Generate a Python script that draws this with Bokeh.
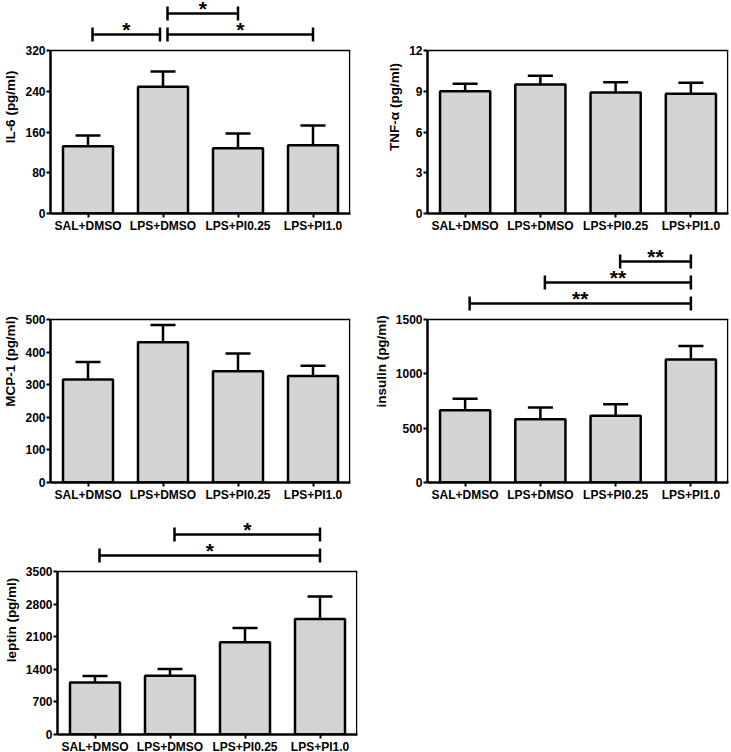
import numpy as np
from bokeh.plotting import figure
from bokeh.models import FixedTicker, GlobalInlineStyleSheet
from bokeh.layouts import column, row
from bokeh.embed import file_html
from bokeh.resources import INLINE
from bokeh.core.properties import value

groups = ["SAL+DMSO", "LPS+DMSO", "LPS+PI0.25", "LPS+PI1.0"]

il6_mean = [132, 249, 128, 134]
il6_sem = [21, 30, 29, 39]
il6_ticks = [0, 80, 160, 240, 320]
il6_sig = [(0, 1, 0, "*"), (1, 3, 0, "*"), (1, 2, 1, "*")]

tnf_mean = [9.0, 9.5, 8.9, 8.82]
tnf_sem = [0.55, 0.65, 0.77, 0.80]
tnf_ticks = [0, 3, 6, 9, 12]
tnf_sig = []

mcp_mean = [316, 430, 341, 327]
mcp_sem = [54, 53, 55, 31]
mcp_ticks = [0, 100, 200, 300, 400, 500]
mcp_sig = []

ins_mean = [666, 581, 614, 1133]
ins_sem = [104, 110, 107, 122]
ins_ticks = [0, 500, 1000, 1500]
ins_sig = [(0, 3, 0, "**"), (1, 3, 1, "**"), (2, 3, 2, "**")]

lep_mean = [1119, 1261, 1980, 2482]
lep_sem = [136, 145, 308, 480]
lep_ticks = [0, 700, 1400, 2100, 2800, 3500]
lep_sig = [(0, 3, 0, "*"), (1, 3, 1, "*")]

FONT = "Liberation Sans"
LEVEL_PX = [16, 37, 58]


def panel(ylabel, means, sems, ticks, sig, frame_h, box_off, bl, fw, br, bb):
    ymax = ticks[-1]
    box_h = frame_h - box_off
    upp = ymax / box_h
    ytop = ymax + box_off * upp
    p = figure(frame_width=fw, frame_height=frame_h, x_range=(-0.5, 3.5),
               y_range=(0, ytop), output_backend="svg", toolbar_location=None,
               min_border_left=bl, min_border_right=br, min_border_top=0,
               min_border_bottom=bb, outline_line_color=None)
    p.grid.visible = False
    x = np.arange(len(groups))
    m = np.array(means, dtype=float)
    s = np.array(sems, dtype=float)
    # error bars
    p.segment(x0=x, y0=m, x1=x, y1=m + s, line_color="black", line_width=2.5)
    p.segment(x0=x - 1 / 6, y0=m + s, x1=x + 1 / 6, y1=m + s,
              line_color="black", line_width=2.5)
    p.vbar(x=x, top=m, bottom=0, width=2 / 3, fill_color="#d4d4d4",
           line_color="black", line_width=2.5)
    # box top/right
    px_x = 4.0 / fw
    p.segment(x0=[-0.5, 3.5 - 0.8 * px_x], y0=[ymax, 0],
              x1=[3.5, 3.5 - 0.8 * px_x], y1=[ymax, ymax],
              line_color="black", line_width=1.5)
    # significance brackets
    starts = {(b[0], b[2]) for b in sig}
    for i, j, lvl, lab in sig:
        yl = ymax + LEVEL_PX[lvl] * upp
        x0 = i + 0.06
        x1 = j - (0.04 if (j, lvl) in starts else 0.0)
        p.segment(x0=[x0, x0, x1], y0=[yl, yl - 7 * upp, yl - 7 * upp],
                  x1=[x1, x0, x1], y1=[yl, yl + 7 * upp, yl + 7 * upp],
                  line_color="black", line_width=2.5)
        p.text(x=[(x0 + x1) / 2], y=[yl + 5 * upp], text=[lab],
               text_font=value(FONT), text_font_style="bold",
               text_font_size="21px", text_align="center",
               text_baseline="alphabetic", text_color="black")
    # axes
    ya = p.yaxis[0]
    ya.bounds = (0, ymax)
    ya.ticker = FixedTicker(ticks=ticks)
    ya.axis_label = ylabel
    xa = p.xaxis[0]
    xa.ticker = FixedTicker(ticks=list(range(len(groups))))
    xa.major_label_overrides = {i: g for i, g in enumerate(groups)}
    for ax in (ya, xa):
        ax.axis_line_width = 2.5
        ax.axis_line_color = "black"
        ax.major_tick_line_width = 2
        ax.major_tick_line_color = "black"
        ax.major_tick_out = 4
        ax.major_tick_in = 0
        ax.minor_tick_line_color = None
        ax.major_label_text_font = FONT
        ax.major_label_text_font_style = "bold"
        ax.major_label_text_font_size = "12px"
        ax.major_label_text_color = "black"
        ax.axis_label_text_font = FONT
        ax.axis_label_text_font_style = "bold"
        ax.axis_label_text_font_size = "13.5px"
        ax.axis_label_text_color = "black"
    ya.major_label_standoff = 1
    ya.axis_label_standoff = 4
    xa.major_label_standoff = 1
    return p


p1 = panel("IL-6 (pg/ml)", il6_mean, il6_sem, il6_ticks, il6_sig, 213, 50, 50, 300, 20, 27)
p2 = panel("TNF-α (pg/ml)", tnf_mean, tnf_sem, tnf_ticks, tnf_sig, 213, 50, 57, 301, 3, 27)
p3 = panel("MCP-1 (pg/ml)", mcp_mean, mcp_sem, mcp_ticks, mcp_sig, 242, 79, 50, 300, 20, 23)
p4 = panel("insulin (pg/ml)", ins_mean, ins_sem, ins_ticks, ins_sig, 242, 79, 57, 301, 3, 23)
p5 = panel("leptin (pg/ml)", lep_mean, lep_sem, lep_ticks, lep_sig, 229, 66, 50, 300, 20, 18)

layout = column(row(p1, p2), row(p3, p4), row(p5))
layout.stylesheets = [GlobalInlineStyleSheet(css="body{margin:0 !important;overflow:hidden;}")]

open("out.html", "w").write(file_html(layout, INLINE))
